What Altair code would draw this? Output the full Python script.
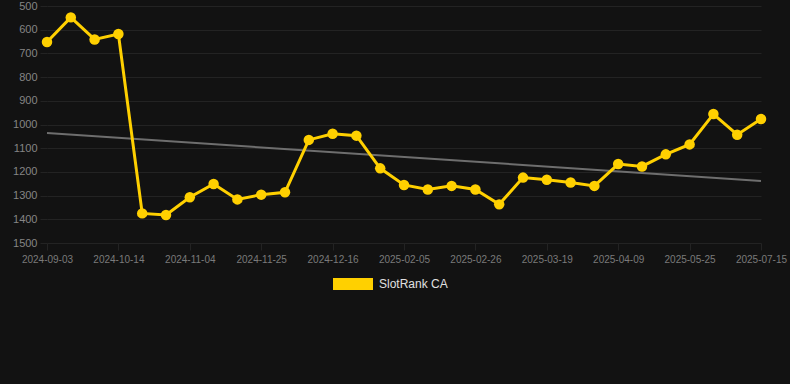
import altair as alt
import pandas as pd

# ---- data ----
dates = [
    "2024-09-03", "2024-09-17", "2024-09-30", "2024-10-14", "2024-10-21", "2024-10-28",
    "2024-11-04", "2024-11-11", "2024-11-18", "2024-11-25", "2024-12-02", "2024-12-09",
    "2024-12-16", "2025-01-06", "2025-01-20", "2025-02-05", "2025-02-12", "2025-02-19",
    "2025-02-26", "2025-03-05", "2025-03-12", "2025-03-19", "2025-03-26", "2025-04-02",
    "2025-04-09", "2025-04-24", "2025-05-10", "2025-05-25", "2025-06-10", "2025-06-27",
    "2025-07-15",
]
ranks = [
    652, 548, 641, 618, 1375, 1382, 1307, 1251, 1316, 1296, 1286, 1065,
    1039, 1047, 1185, 1255, 1274, 1259, 1274, 1337, 1224, 1233, 1245, 1259,
    1167, 1177, 1126, 1084, 956, 1043, 977,
]
tick_dates = [
    "2024-09-03", "2024-10-14", "2024-11-04", "2024-11-25", "2024-12-16", "2025-02-05",
    "2025-02-26", "2025-03-19", "2025-04-09", "2025-05-25", "2025-07-15",
]
y_ticks = [500, 600, 700, 800, 900, 1000, 1100, 1200, 1300, 1400, 1500]
trend_dates = ["2024-09-03", "2025-07-15"]
trend_ranks = [1036, 1238]
series_name = "SlotRank CA"

df = pd.DataFrame({"date": dates, "rank": ranks, "series": [series_name] * len(dates)})
tdf = pd.DataFrame({"date": trend_dates, "rank": trend_ranks})

BG = "#121212"
YELLOW = "#FFD000"
GRID = "#232323"
FONT = "Liberation Sans"

x = alt.X(
    "date:O",
    sort=dates,
    scale=alt.Scale(type="point", padding=0),
    axis=alt.Axis(values=tick_dates, labelAngle=0, title=None, labelFontSize=10,
                  labelColor="#7a7a7a", labelPadding=4, tickSize=7),
)
y = alt.Y(
    "rank:Q",
    scale=alt.Scale(domain=[500, 1500], reverse=True, nice=False, zero=False),
    axis=alt.Axis(values=y_ticks, format="d", title=None, labelFontSize=11,
                  labelColor="#858585", labelPadding=3, tickSize=7),
)

trend = alt.Chart(tdf).mark_line(color="#6e6e6e", strokeWidth=2).encode(x=x, y=y)
line = alt.Chart(df).mark_line(color=YELLOW, strokeWidth=3).encode(x=x, y=y)
points = alt.Chart(df).mark_circle(size=110, opacity=1).encode(
    x=x,
    y=y,
    color=alt.Color(
        "series:N",
        scale=alt.Scale(domain=[series_name], range=[YELLOW]),
        legend=alt.Legend(
            title=None,
            orient="none",
            legendX=286,
            legendY=258,
            padding=0,
            symbolType="M-1,-0.3H1V0.3H-1Z",
            symbolSize=1600,
            symbolOpacity=1,
            symbolStrokeWidth=0,
            labelFontSize=12,
            labelColor="#e0e0e0",
            labelFont=FONT,
            labelOffset=6,
        ),
    ),
)

chart = (
    alt.layer(trend, line, points)
    .properties(
        width=714,
        height=237,
        background=BG,
        padding={"left": 47, "top": 6, "right": 29, "bottom": 141},
        autosize=alt.AutoSizeParams(type="none"),
    )
    .configure_view(stroke=None)
    .configure_axis(
        domain=False,
        gridColor=GRID,
        gridWidth=1,
        tickColor=GRID,
        labelFont=FONT,
    )
)

save_kwargs = {}
try:
    import jinja2

    page_template = jinja2.Template(
        """<!DOCTYPE html>
<html>
<head>
  <meta charset="utf-8">
  <style>
    html, body { margin: 0; padding: 0; background: """ + BG + """; overflow: hidden; }
    #{{ output_div }}.vega-embed { display: block; line-height: 0; }
  </style>
  <script type="text/javascript" src="{{ base_url }}/vega@{{ vega_version }}"></script>
  <script type="text/javascript" src="{{ base_url }}/vega-lite@{{ vegalite_version }}"></script>
  <script type="text/javascript" src="{{ base_url }}/vega-embed@{{ vegaembed_version }}"></script>
</head>
<body>
  <div id="{{ output_div }}"></div>
  <script type="text/javascript">
    var spec = {{ spec }};
    var embedOpt = {{ embed_options }};
    vegaEmbed("#{{ output_div }}", spec, embedOpt).catch(function (error) {
      document.getElementById("{{ output_div }}").innerHTML =
        '<div style="color:red">' + error.message + '</div>';
    });
  </script>
</body>
</html>
"""
    )
    save_kwargs["template"] = page_template
except Exception:
    save_kwargs = {}

chart.save("out.html", embed_options={"renderer": "svg", "actions": False}, **save_kwargs)
